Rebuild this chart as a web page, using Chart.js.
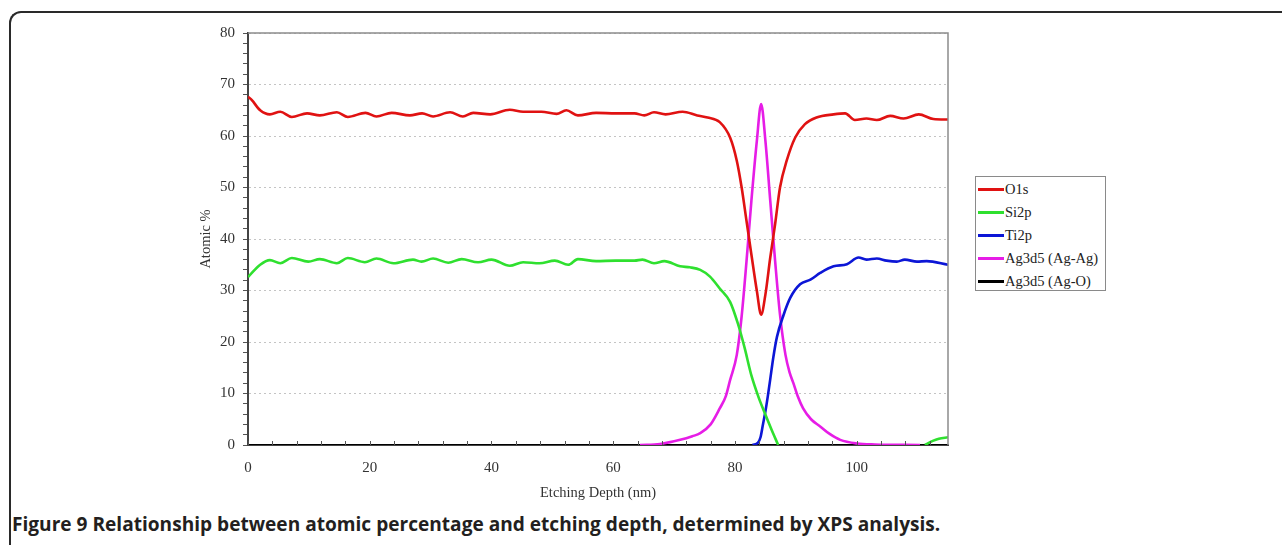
<!DOCTYPE html>
<html><head><meta charset="utf-8">
<script src="https://cdn.jsdelivr.net/npm/chart.js@4.4.1/dist/chart.umd.min.js"></script>
<style>
html,body{margin:0;padding:0;background:#fff;width:1282px;height:545px;overflow:hidden;position:relative;}
#frame{position:absolute;left:9px;top:11px;width:1400px;height:700px;border-top:2px solid #2a2a2a;border-left:2px solid #2a2a2a;border-top-left-radius:12px;box-sizing:border-box;}
#wrap{position:absolute;left:0;top:0;width:1282px;height:510px;}
#legend{position:absolute;left:975px;top:176px;width:131px;height:115px;border:1.5px solid #8a8a8a;box-sizing:border-box;background:#fff;font-family:"Liberation Serif",serif;font-size:14.5px;color:#222;padding-top:1px;}
.item{display:flex;align-items:center;height:23px;white-space:nowrap;}
.swatch{width:26px;height:2.5px;margin-left:2px;margin-right:1px;}
#caption{position:absolute;left:12px;top:514px;line-height:20px;font-family:"Open Sans",sans-serif;font-weight:bold;font-size:17.4px;color:#231f20;white-space:nowrap;}
</style></head>
<body>
<div id="frame"></div>
<div id="wrap"><canvas id="c" width="1282" height="510"></canvas></div>
<div id="legend"></div>
<div id="caption">Figure 9 Relationship between atomic percentage and etching depth, determined by XPS analysis.</div>
<script>
// ---- data ----
const seriesLabels = ['O1s', 'Si2p', 'Ti2p', 'Ag3d5 (Ag-Ag)', 'Ag3d5 (Ag-O)'];

const o1sDepth = [0,0.6,2.0,3.6,5.3,7.2,9.7,11.8,14.6,16.4,19.3,21.1,23.6,26.6,28.6,30.4,33.2,35.3,37.0,39.8,43.0,45.2,48.2,50.7,52.3,54.2,57.2,60.4,63.5,65.1,66.7,68.6,71.4,73.8,75.5,77.5,79.2,80.3,81.1,81.9,82.7,83.6,84.3,85.0,85.8,86.6,87.4,88.5,89.9,91.5,93.4,96.2,98.1,99.7,101.6,103.3,105.5,107.7,110.2,112.6,115];
const o1sValues = [67.6,67.0,65.0,64.2,64.7,63.7,64.4,64.0,64.6,63.7,64.5,63.8,64.5,64.0,64.4,63.8,64.6,63.8,64.5,64.2,65.1,64.7,64.7,64.3,65.0,64.0,64.5,64.4,64.4,64.0,64.6,64.2,64.7,64.0,63.6,62.7,59.7,55.2,50.0,43.5,37.0,29.9,25.3,29.2,36.4,42.9,50.0,55.2,59.7,62.3,63.6,64.2,64.4,63.1,63.4,63.1,63.9,63.4,64.2,63.3,63.2];

const siDepth = [0,2.0,3.6,5.3,7.2,9.9,11.8,14.6,16.4,19.2,21.1,23.9,27.1,28.5,30.4,32.9,35.1,37.8,40.0,43.0,45.2,47.9,50.4,52.6,54.2,57.2,60.4,63.5,64.8,66.7,68.4,71.0,72.6,74.3,75.9,77.5,79.2,80.5,81.6,82.7,83.9,84.9,86.0,87.1,99,111.2,112.5,113.5,115];
const siValues = [32.6,35.0,35.9,35.3,36.3,35.6,36.1,35.3,36.3,35.5,36.2,35.3,36.0,35.6,36.2,35.4,36.1,35.5,36.0,34.8,35.5,35.3,35.8,35.0,36.1,35.7,35.8,35.8,36.0,35.3,35.7,34.7,34.5,34.0,32.7,30.4,27.8,23.5,18.8,13.5,9.2,6.2,3.0,0,null,0,0.8,1.2,1.5];

const tiDepth = [82.9,83.8,84.2,84.6,85.0,85.4,85.8,86.3,86.9,88.0,89.1,90.7,92.4,94.0,96.2,98.4,100.3,101.6,103.3,104.9,106.6,107.9,109.9,111.5,115];
const tiValues = [0,0.5,1.5,4.0,6.5,9.5,12.8,17.0,21.0,25.3,28.6,31.2,32.1,33.4,34.7,35.1,36.4,36.0,36.2,35.8,35.6,36.0,35.6,35.7,35.0];

const agDepth = [64.4,67.7,71.0,73.0,74.3,76.0,77.5,78.5,79.2,80.3,81.1,81.9,82.7,83.6,84.3,85.0,85.8,86.6,87.4,88.3,89.0,89.6,90.3,91.2,92.5,94.0,95.5,97.3,100.0,103.0,110.4];
const agValues = [0,0.2,1.0,1.7,2.3,4.0,7.1,9.5,12.6,17.5,25.0,35.7,47.4,59.1,66.2,59.1,47.4,35.7,25.3,17.5,14.0,12.0,9.5,7.1,5.0,3.6,2.2,1.0,0.3,0.1,0];

const agoDepth = [0,115];
const agoValues = [0,0];

const yTickLabels = [0,10,20,30,40,50,60,70,80];
const xTickLabels = [0,20,40,60,80,100];

// ---- chart ----
const FONT = "'Liberation Serif','Times New Roman',serif";
const pts = (xs, ys) => xs.map((x, i) => ({x: x, y: ys[i]}));
const colors = ['#e01212', '#2fe02f', '#0c16d6', '#e61de6', '#000000'];

const framePlugin = {
  id: 'frame',
  afterDatasetsDraw(chart) {
    const a = chart.chartArea, c = chart.ctx, xs = chart.scales.x;
    c.save();
    c.strokeStyle = '#8c8c8c'; c.lineWidth = 1.5;
    c.beginPath(); c.moveTo(a.left, a.top); c.lineTo(a.right, a.top); c.lineTo(a.right, a.bottom); c.stroke();
    c.strokeStyle = '#555'; c.lineWidth = 1;
    xs.ticks.forEach(t => {
      const px = Math.round(xs.getPixelForValue(t.value)) + 0.5;
      c.beginPath(); c.moveTo(px, a.bottom); c.lineTo(px, a.bottom - 4); c.stroke();
    });
    c.restore();
  }
};

const chart = new Chart(document.getElementById('c'), {
  type: 'line',
  data: { datasets: [
    {label: seriesLabels[0], data: pts(o1sDepth, o1sValues), borderColor: colors[0]},
    {label: seriesLabels[1], data: pts(siDepth, siValues), borderColor: colors[1], spanGaps: false},
    {label: seriesLabels[2], data: pts(tiDepth, tiValues), borderColor: colors[2]},
    {label: seriesLabels[3], data: pts(agDepth, agValues), borderColor: colors[3]},
    {label: seriesLabels[4], data: pts(agoDepth, agoValues), borderColor: colors[4], borderWidth: 2}
  ]},
  options: {
    responsive: false, animation: false,
    layout: {padding: {left: 168, right: 334, top: 33, bottom: 0}},
    plugins: {legend: {display: false}, tooltip: {enabled: false}},
    elements: {point: {radius: 0}, line: {borderWidth: 2.6, cubicInterpolationMode: 'monotone', fill: false}},
    scales: {
      x: {
        type: 'linear', min: 0, max: 115,
        afterFit(s) { s.height = 65; },
        ticks: {stepSize: 4, includeBounds: false, autoSkip: false, maxRotation: 0, padding: 14,
          font: {family: FONT, size: 15}, color: '#333',
          callback: v => xTickLabels.includes(v) ? String(v) : ''},
        grid: {display: true, drawOnChartArea: false, drawTicks: false},
        border: {color: '#444', width: 2},
        title: {display: true, text: 'Etching Depth (nm)', color: '#333', font: {family: FONT, size: 14.5}, padding: {top: 0, bottom: 8}}
      },
      y: {
        min: 0, max: 80,
        afterFit(s) { s.width = 80; },
        ticks: {stepSize: 2, autoSkip: false, padding: 8,
          font: {family: FONT, size: 15}, color: '#333',
          callback: v => yTickLabels.includes(v) ? String(v) : ''},
        grid: {color: c => (c.tick && yTickLabels.includes(c.tick.value)) ? '#c4c4c4' : 'rgba(0,0,0,0)',
          tickColor: '#555', tickLength: 5, lineWidth: 1},
        border: {color: '#444', width: 2, dash: [2, 3]},
        title: {display: true, text: 'Atomic %', color: '#333', font: {family: FONT, size: 14.5}, padding: {top: 29, bottom: 0}}
      }
    }
  },
  plugins: [framePlugin]
});

// ---- HTML legend built from the datasets ----
const lg = document.getElementById('legend');
chart.data.datasets.forEach(ds => {
  const it = document.createElement('div'); it.className = 'item';
  const sw = document.createElement('span'); sw.className = 'swatch'; sw.style.background = ds.borderColor;
  const tx = document.createElement('span'); tx.textContent = ds.label;
  it.appendChild(sw); it.appendChild(tx); lg.appendChild(it);
});

// fit caption width to the reference extent
const cap = document.getElementById('caption');
const w = cap.getBoundingClientRect().width;
if (w > 0) cap.style.fontSize = (17.4 * 928 / w).toFixed(2) + 'px';
</script>
</body></html>
